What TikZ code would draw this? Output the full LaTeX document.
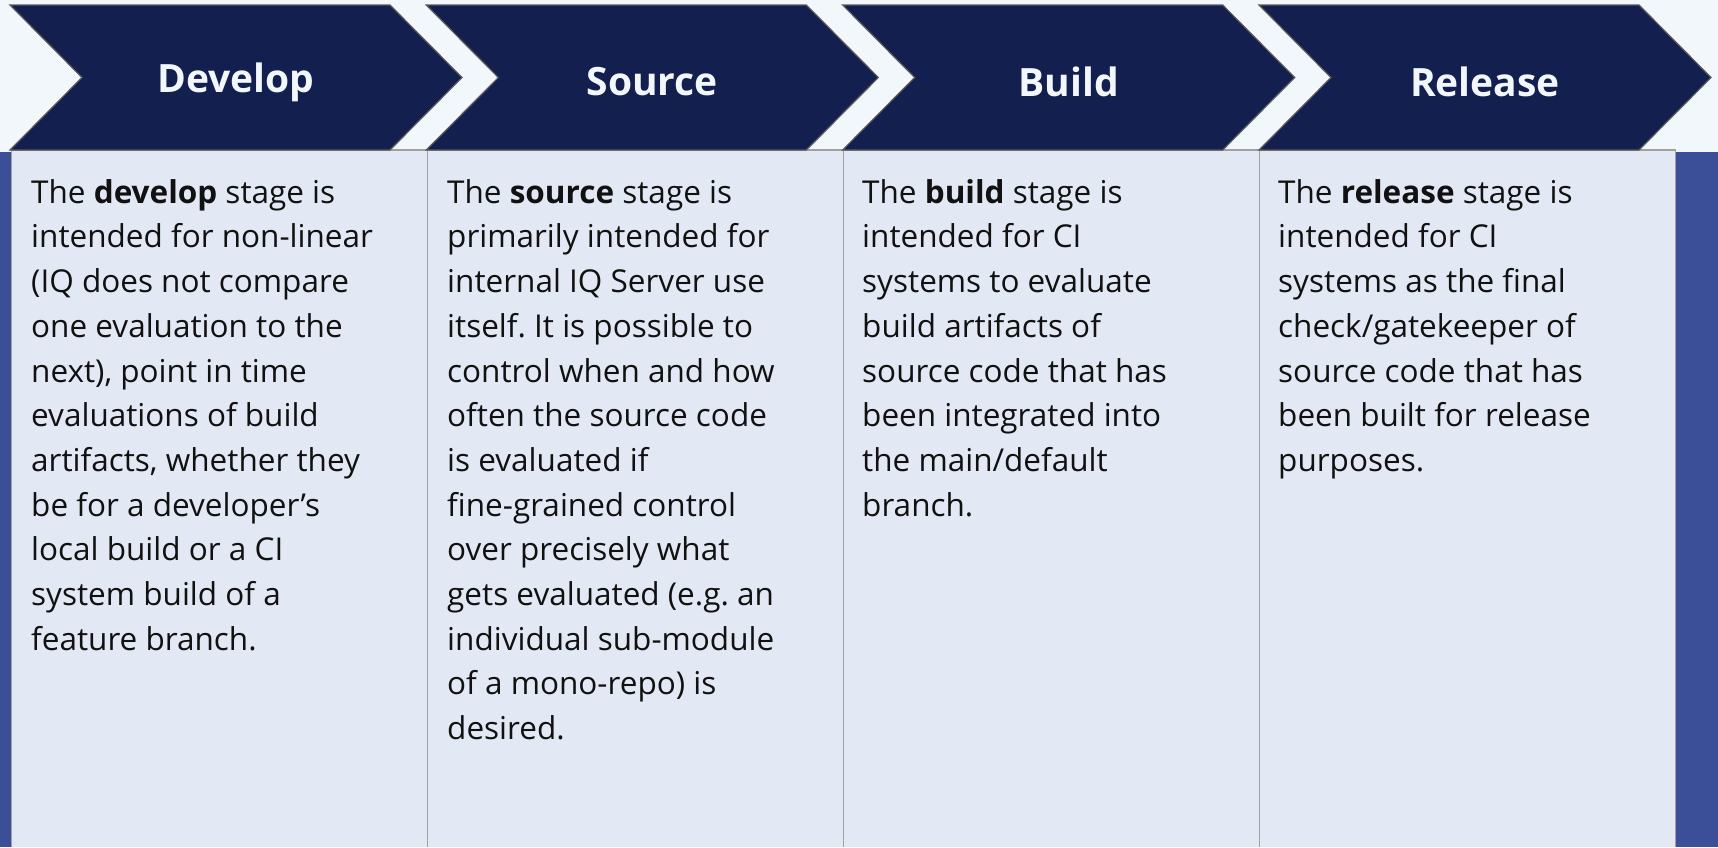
\documentclass[tikz,border=0pt]{standalone}
\usepackage{fontspec}
\setmainfont{Open Sans}
\definecolor{bgc}{HTML}{F2F7FC}
\definecolor{chevc}{HTML}{131F4F}
\definecolor{boxc}{HTML}{E3E9F4}
\definecolor{stripc}{HTML}{3B4F99}
\definecolor{edgec}{HTML}{A0A0A0}
\definecolor{txtc}{HTML}{111111}
\tikzset{
  chev/.style={fill=chevc, draw=black!65, line width=1.2pt},
  panel/.style={fill=boxc},
  panelline/.style={draw=edgec, line width=1.6pt},
  head/.style={text=bgc, font=\fontsize{39}{42}\selectfont\bfseries, inner sep=0pt},
  body/.style={text=txtc, font=\fontsize{31.5}{44.7}\selectfont, align=left, anchor=north west, inner sep=0pt}
}
\newcommand{\fl}{\rule{0pt}{30pt}}
\frenchspacing
\begin{document}
\begin{tikzpicture}[x=1pt,y=-1pt]
\useasboundingbox (0,0) rectangle (1718,847);
\fill[bgc] (0,0) rectangle (1718,847);
\fill[stripc] (0,152) rectangle (12,847);
\fill[stripc] (1675,152) rectangle (1718,847);
% panels
\foreach \i in {0,1,2,3}{
  \pgfmathsetmacro{\px}{11.5+416*\i}
  \fill[panel] (\px,150) rectangle (\px+416,847);
  \draw[panelline] (\px,847) -- (\px,150) -- (\px+416,150) -- (\px+416,847);
}
% chevrons
\foreach \i in {0,1,2,3}{
  \pgfmathsetmacro{\cx}{10+416.33*\i}
  \draw[chev] (\cx,5) -- ++(380,0) -- ++(72,72.5) -- ++(-72,72.5) -- ++(-380,0) -- ++(72,-72.5) -- cycle;
}
\node[head] (h1) at (236,82) {Develop};
\node[head] (h2) at (652.3,82) {Source};
\node[head] (h3) at (1068.7,82) {Build};
\node[head] (h4) at (1485,82) {Release};
\node[body] (t1) at (31,173) {\fl The \textbf{develop} stage is\\
intended for non-linear\\
(IQ does not compare\\
one evaluation to the\\
next), point in time\\
evaluations of build\\
artifacts, whether they\\
be for a developer’s\\
local build or a CI\\
system build of a\\
feature branch.};
\node[body] (t2) at (447,173) {\fl The \textbf{source} stage is\\
primarily intended for\\
internal IQ Server use\\
itself. It is possible to\\
control when and how\\
often the source code\\
is evaluated if\\
fine-grained control\\
over precisely what\\
gets evaluated (e.g. an\\
individual sub-module\\
of a mono-repo) is\\
desired.};
\node[body] (t3) at (862,173) {\fl The \textbf{build} stage is\\
intended for CI\\
systems to evaluate\\
build artifacts of\\
source code that has\\
been integrated into\\
the main/default\\
branch.};
\node[body] (t4) at (1278,173) {\fl The \textbf{release} stage is\\
intended for CI\\
systems as the final\\
check/gatekeeper of\\
source code that has\\
been built for release\\
purposes.};
\end{tikzpicture}
\end{document}
